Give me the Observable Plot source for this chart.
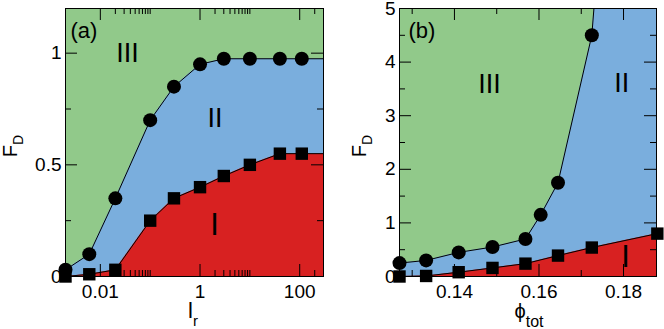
<!DOCTYPE html>
<html><head><meta charset="utf-8">
<script src="https://cdn.jsdelivr.net/npm/d3@7"></script>
<script src="https://cdn.jsdelivr.net/npm/@observablehq/plot@0.6"></script>
<style>
body{margin:0;background:#fff;}
#wrap{display:flex;width:664px;height:329px;}
#wrap svg{display:block;}
</style></head><body><div id="wrap"></div>
<script>
// ---------- data: panel (a) ----------
const lrValues      = [0.002, 0.006, 0.02, 0.1, 0.3, 1, 3, 10, 40, 110];
const lrCircleFD    = [0.03, 0.10, 0.35, 0.70, 0.85, 0.95, 0.975, 0.975, 0.975, 0.975];
const lrSquareFD    = [0, 0.01, 0.03, 0.25, 0.35, 0.40, 0.45, 0.50, 0.55, 0.55];
const lrMajorTicks  = [0.01, 1, 100];
const lrMinorTicks  = [0.02,0.03,0.04,0.05,0.06,0.07,0.08,0.09,0.1, 2,3,4,5,6,7,8,9,10, 200];
const fdMajorTicksA = [0, 0.5, 1];
const fdMinorTicksA = [0.25, 0.75];
const regionLabelsA = [{label:"III", x:0.035, y:1.0, big:false},{label:"II", x:2.0, y:0.71, big:false},{label:"I", x:1.95, y:0.23, big:true}];

// ---------- data: panel (b) ----------
const phiCircleX    = [0.127, 0.1333, 0.141, 0.149, 0.1568, 0.1604, 0.1645, 0.1725];
const phiCircleFD   = [0.25, 0.30, 0.45, 0.55, 0.70, 1.15, 1.75, 4.5];
const phiCircleTailX  = [0.18];   // boundary continues above the frame
const phiCircleTailFD = [12];
const phiSquareX    = [0.127, 0.1333, 0.141, 0.149, 0.1568, 0.1645, 0.1725, 0.188];
const phiSquareFD   = [0, 0.01, 0.08, 0.16, 0.24, 0.39, 0.54, 0.80];
const phiMajorTicks = [0.14, 0.16, 0.18];
const phiMinorTicks = [0.13, 0.15, 0.17];
const fdMajorTicksB = [0, 1, 2, 3, 4, 5];
const fdMinorTicksB = [0.5, 1.5, 2.5, 3.5, 4.5];
const regionLabelsB = [{label:"III", x:0.1483, y:3.59, big:false},{label:"II", x:0.1796, y:3.6, big:false},{label:"I", x:0.1805, y:0.36, big:true}];

const GREEN = "#91c98a", BLUE = "#7aaedd", RED = "#d82121";
const FONT = "Liberation Sans, Arial, Helvetica, sans-serif";
const W = 332, H = 329;

const pts = (xs, ys) => xs.map((x, i) => ({x, y: ys[i]}));
const extendTo = (arr, xmax) => [...arr, {x: xmax, y: arr[arr.length - 1].y}];

function tickMarks(xMaj, xMin, yMaj, yMin, fw, fh) {
  const L = 12, l = 6;
  return [
    Plot.tickY(yMaj, {insetRight: fw - L, stroke: "black"}),
    Plot.tickY(yMaj, {insetLeft: fw - L, stroke: "black"}),
    Plot.tickY(yMin, {insetRight: fw - l, stroke: "black"}),
    Plot.tickY(yMin, {insetLeft: fw - l, stroke: "black"}),
    Plot.tickX(xMaj, {insetBottom: fh - L, stroke: "black"}),
    Plot.tickX(xMaj, {insetTop: fh - L, stroke: "black"}),
    Plot.tickX(xMin, {insetBottom: fh - l, stroke: "black"}),
    Plot.tickX(xMin, {insetTop: fh - l, stroke: "black"})
  ];
}

function regionText(labels) {
  return [
    Plot.text(labels.filter(d => !d.big), {x: "x", y: "y", text: "label", fontSize: 27, fill: "black", lineAnchor: "middle"}),
    Plot.text(labels.filter(d => d.big), {x: "x", y: "y", text: "label", fontSize: 31, fill: "black", lineAnchor: "middle"})
  ];
}

// ---------- panel (a) ----------
const mA = {left: 65, right: 9, top: 8, bottom: 53};
const fwA = W - mA.left - mA.right, fhA = H - mA.top - mA.bottom;
const lrDomain = [0.002, 300], fdDomainA = [0, 1.2];
const circA = pts(lrValues, lrCircleFD), sqA = pts(lrValues, lrSquareFD);
const circAExt = extendTo(circA, lrDomain[1]), sqAExt = extendTo(sqA, lrDomain[1]);

const plotA = Plot.plot({
  width: W, height: H,
  marginLeft: mA.left, marginRight: mA.right, marginTop: mA.top, marginBottom: mA.bottom,
  x: {type: "log", domain: lrDomain},
  y: {domain: fdDomainA},
  style: {fontSize: "19px", fontFamily: FONT, background: "white", color: "black", overflow: "visible"},
  marks: [
    Plot.frame({fill: BLUE, stroke: "none"}),
    Plot.areaY(circAExt, {x: "x", y1: "y", y2: () => fdDomainA[1], fill: GREEN}),
    Plot.areaY(sqAExt, {x: "x", y: "y", fill: RED}),
    ...tickMarks(lrMajorTicks, lrMinorTicks, fdMajorTicksA, fdMinorTicksA, fwA, fhA),
    Plot.axisY(fdMajorTicksA, {tickSize: 0, tickPadding: 4, label: null, tickFormat: d => String(d)}),
    Plot.axisX(lrMajorTicks, {tickSize: 0, tickPadding: 8, label: null, tickFormat: d => String(d)}),
    Plot.frame({stroke: "black"}),
    Plot.line(circAExt, {x: "x", y: "y", stroke: "black", strokeWidth: 1}),
    Plot.line(sqAExt, {x: "x", y: "y", stroke: "black", strokeWidth: 1}),
    Plot.dot(circA, {x: "x", y: "y", r: 7, fill: "black", stroke: "none", symbol: "circle"}),
    Plot.dot(sqA, {x: "x", y: "y", r: 7, fill: "black", stroke: "none", symbol: "square"}),
    ...regionText(regionLabelsA),
    Plot.text(["(a)"], {frameAnchor: "top-left", dx: 5, dy: 14, textAnchor: "start", lineAnchor: "top", fontSize: 22, fill: "black"})
  ]
});

// ---------- panel (b) ----------
const mB = {left: 67, right: 8, top: 8, bottom: 53};
const fwB = W - mB.left - mB.right, fhB = H - mB.top - mB.bottom;
const phiDomain = [0.127, 0.1878], fdDomainB = [0, 5];
const circB = pts(phiCircleX, phiCircleFD), sqB = pts(phiSquareX, phiSquareFD);
const circBLine = [...circB, ...pts(phiCircleTailX, phiCircleTailFD)];

const plotB = Plot.plot({
  width: W, height: H,
  marginLeft: mB.left, marginRight: mB.right, marginTop: mB.top, marginBottom: mB.bottom,
  x: {domain: phiDomain},
  y: {domain: fdDomainB},
  style: {fontSize: "19px", fontFamily: FONT, background: "white", color: "black", overflow: "visible"},
  marks: [
    Plot.frame({fill: BLUE, stroke: "none"}),
    Plot.areaY(circBLine, {x: "x", y1: "y", y2: () => fdDomainB[1], fill: GREEN, clip: true}),
    Plot.areaY(sqB, {x: "x", y: "y", fill: RED, clip: true}),
    ...tickMarks(phiMajorTicks, phiMinorTicks, fdMajorTicksB, fdMinorTicksB, fwB, fhB),
    Plot.axisY(fdMajorTicksB, {tickSize: 0, tickPadding: 4, label: null, tickFormat: d => String(d)}),
    Plot.axisX(phiMajorTicks, {tickSize: 0, tickPadding: 8, label: null, tickFormat: d => String(d)}),
    Plot.frame({stroke: "black"}),
    Plot.line(circBLine, {x: "x", y: "y", stroke: "black", strokeWidth: 1, clip: true}),
    Plot.line(sqB, {x: "x", y: "y", stroke: "black", strokeWidth: 1, clip: true}),
    Plot.dot(circB, {x: "x", y: "y", r: 7, fill: "black", stroke: "none", symbol: "circle"}),
    Plot.dot(sqB, {x: "x", y: "y", r: 7, fill: "black", stroke: "none", symbol: "square"}),
    ...regionText(regionLabelsB),
    Plot.text(["(b)"], {frameAnchor: "top-left", dx: 9, dy: 14, textAnchor: "start", lineAnchor: "top", fontSize: 22, fill: "black"})
  ]
});

// ---------- axis titles with subscripts ----------
function yTitle(svg, x, y) {
  const t = d3.select(svg).append("text")
    .attr("transform", `translate(${x},${y}) rotate(-90)`)
    .attr("text-anchor", "middle").attr("font-family", FONT).attr("fill", "black");
  t.append("tspan").attr("font-size", 20).text("F");
  t.append("tspan").attr("font-size", 14).attr("dy", 6).text("D");
}
function xTitle(svg, x, y, main, sub, mainSize, subSize, subDy) {
  const t = d3.select(svg).append("text")
    .attr("x", x).attr("y", y)
    .attr("text-anchor", "middle").attr("font-family", FONT).attr("fill", "black");
  t.append("tspan").attr("font-size", mainSize).text(main);
  t.append("tspan").attr("font-size", subSize).attr("dy", subDy).text(sub);
}
yTitle(plotA, 17, 146);
yTitle(plotB, 366 - W, 146);
xTitle(plotA, 193, 318, "l", "r", 22, 15, 8);
xTitle(plotB, 529 - W, 318, "\u03D5", "tot", 20, 16, 9);

document.getElementById("wrap").append(plotA, plotB);
</script>
</body></html>
